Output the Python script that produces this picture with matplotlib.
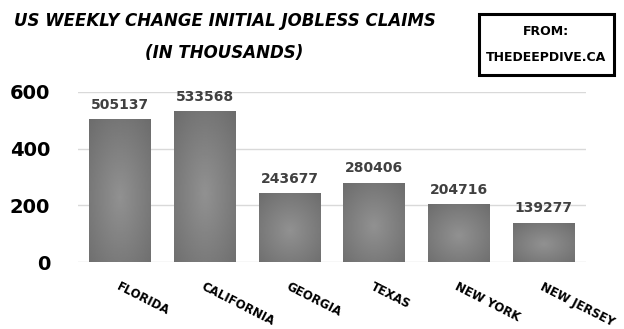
import numpy as np
import matplotlib
matplotlib.use('Agg')
import matplotlib.pyplot as plt
from matplotlib.patches import Rectangle

states = ['Florida', 'California', 'Georgia', 'Texas', 'New York', 'New Jersey']
claims = [505137, 533568, 243677, 280406, 204716, 139277]
yticks = [0, 200, 400, 600]

vals = [c / 1000 for c in claims]

fig = plt.figure(figsize=(6.24, 3.29), dpi=100)
ax = fig.add_axes([0.125, 0.2036, 0.814, 0.5168])

x = np.arange(len(states))
bars = ax.bar(x, vals, width=0.73, color='none', edgecolor='none', zorder=2)

# radial gradient fill for every bar
gy, gx = np.mgrid[-1:1:100j, -1:1:100j]
r = np.sqrt(gx**2 + (gy + 0.1)**2) / np.sqrt(2)
shade = 0.57 - 0.14 * r
for b in bars:
    x0, w, h = b.get_x(), b.get_width(), b.get_height()
    im = ax.imshow(shade, cmap='gray', vmin=0, vmax=1, extent=(x0, x0 + w, 0, h),
                   aspect='auto', origin='lower', zorder=2, interpolation='bilinear')
    im.set_clip_path(b)

for xi, v, c in zip(x, vals, claims):
    ax.text(xi, v + 25, str(c), ha='center', va='bottom', fontsize=10,
            color='#404040', fontweight='bold')

ax.set_xlim(-0.5, len(states) - 0.5)
ax.set_ylim(0, 600)
ax.set_yticks(yticks)
ax.set_yticklabels([str(t) for t in yticks], fontsize=14, fontweight='bold')
ax.set_xticks(x)
ax.set_xticklabels([s.upper() for s in states], rotation=-27, ha='left',
                   rotation_mode='anchor', fontsize=8.5, fontweight='bold')
ax.tick_params(axis='both', length=0)
ax.tick_params(axis='y', pad=20)
ax.tick_params(axis='x', pad=13)
ax.grid(axis='y', color='#d9d9d9', linewidth=1, zorder=0)
ax.set_axisbelow(True)
for s in ax.spines.values():
    s.set_visible(False)

fig.text(0.36, 0.935, 'US WEEKLY CHANGE INITIAL JOBLESS CLAIMS', ha='center', va='center',
         fontsize=12, fontweight='bold', fontstyle='italic')
fig.text(0.36, 0.84, '(IN THOUSANDS)', ha='center', va='center',
         fontsize=12, fontweight='bold', fontstyle='italic')

fig.patches.append(Rectangle((0.767, 0.772), 0.217, 0.185, transform=fig.transFigure,
                             fill=False, edgecolor='black', linewidth=2.2))
fig.text(0.875, 0.905, 'FROM:', ha='center', va='center', fontsize=9, fontweight='bold')
fig.text(0.875, 0.825, 'THEDEEPDIVE.CA', ha='center', va='center', fontsize=9, fontweight='bold')

fig.savefig('out.png', dpi=100)
